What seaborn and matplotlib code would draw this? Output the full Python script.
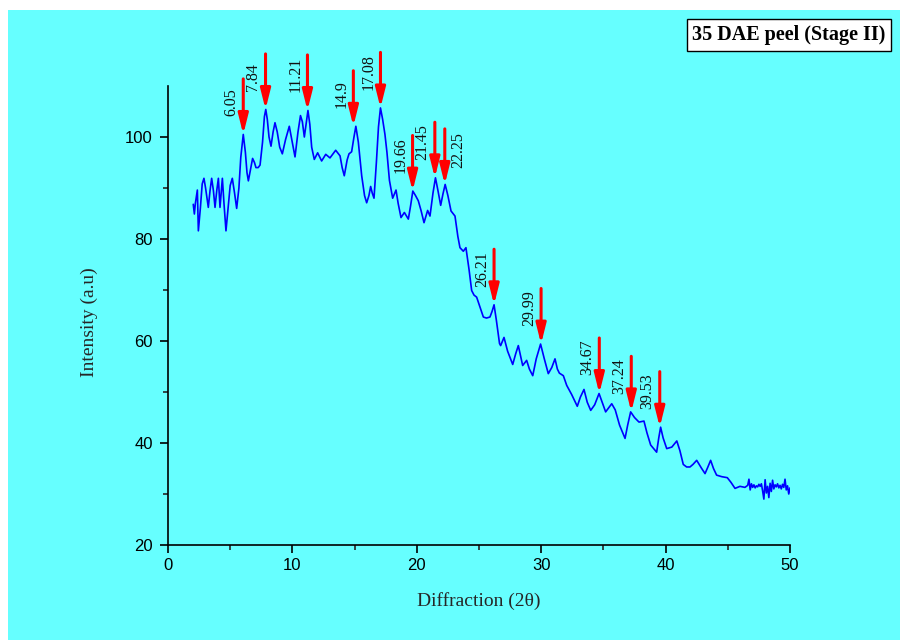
import matplotlib
matplotlib.use("Agg")
import matplotlib.pyplot as plt
from matplotlib.patches import Rectangle
import seaborn as sns
import pandas as pd

# XRD pattern: diffraction angle (2θ) and intensity (a.u)
two_theta = [
    2.03, 2.12, 2.20, 2.36, 2.44, 2.60, 2.75, 2.89, 3.02, 3.24, 3.38, 3.51, 3.65, 3.78, 3.92,
    4.05, 4.18, 4.37, 4.50, 4.66, 4.85, 5.00, 5.17, 5.35, 5.52, 5.70, 5.85, 6.05, 6.22, 6.35,
    6.46, 6.62, 6.80, 6.95, 7.07, 7.25, 7.40, 7.60, 7.75, 7.86, 7.98, 8.12, 8.28, 8.45, 8.60,
    8.78, 8.98, 9.19, 9.45, 9.75, 9.95, 10.21, 10.45, 10.65, 10.80, 10.96, 11.10, 11.25, 11.40,
    11.55, 11.76, 12.03, 12.35, 12.68, 13.02, 13.48, 13.83, 14.00, 14.17, 14.40, 14.55, 14.76,
    14.95, 15.10, 15.30, 15.57, 15.80, 15.97, 16.15, 16.29, 16.42, 16.56, 16.75, 16.92, 17.08,
    17.25, 17.44, 17.60, 17.80, 18.06, 18.33, 18.50, 18.73, 19.00, 19.32, 19.50, 19.68, 19.90,
    20.12, 20.35, 20.58, 20.87, 21.06, 21.30, 21.50, 21.70, 21.92, 22.10, 22.28, 22.50, 22.75,
    23.07, 23.30, 23.47, 23.74, 23.95, 24.20, 24.41, 24.60, 24.81, 25.10, 25.35, 25.60, 25.88,
    26.05, 26.21, 26.40, 26.65, 26.74, 27.01, 27.30, 27.71, 27.95, 28.16, 28.35, 28.51, 28.83,
    29.05, 29.32, 29.60, 29.95, 30.25, 30.57, 30.85, 31.11, 31.30, 31.46, 31.78, 32.05, 32.45,
    32.90, 33.15, 33.44, 33.70, 33.98, 34.30, 34.65, 34.90, 35.18, 35.45, 35.67, 35.95, 36.30,
    36.74, 36.95, 37.19, 37.50, 37.86, 38.26, 38.50, 38.80, 39.28, 39.45, 39.60, 39.80, 40.09,
    40.50, 40.90, 41.15, 41.42, 41.69, 41.96, 42.20, 42.50, 42.90, 43.17, 43.40, 43.62, 43.85,
    44.10, 44.51, 44.96, 45.25, 45.58, 45.98, 46.38, 46.60,
    46.7, 46.8, 46.9, 47.0, 47.1, 47.2, 47.3, 47.4, 47.5, 47.6, 47.7, 47.8, 47.9, 48.0, 48.1,
    48.2, 48.3, 48.4, 48.5, 48.6, 48.7, 48.8, 48.9, 49.0, 49.1, 49.2, 49.3, 49.4, 49.5, 49.6,
    49.7, 49.8, 49.9, 50.0,
]
intensity = [
    86.8, 84.9, 87.0, 89.6, 81.6, 86.0, 90.8, 91.9, 90.0, 86.2, 89.5, 91.9, 89.5, 86.2, 89.5,
    91.9, 86.2, 91.9, 87.0, 81.6, 86.5, 90.5, 91.9, 89.0, 86.0, 90.0, 96.0, 100.5, 97.0, 93.0,
    91.4, 93.5, 95.8, 95.0, 94.0, 94.0, 94.5, 99.0, 104.0, 105.4, 103.5, 100.0, 98.2, 101.0, 102.8,
    101.0, 98.0, 96.7, 99.5, 102.1, 99.5, 96.1, 101.0, 104.2, 103.0, 100.0, 102.5, 105.2, 102.5,
    98.0, 95.6, 96.9, 95.3, 96.6, 95.9, 97.4, 96.3, 94.0, 92.4, 95.5, 96.7, 97.1,
    100.0, 102.1, 99.0, 92.4, 88.5, 87.1, 88.5, 90.3, 89.0, 88.0, 95.0, 102.0, 105.7,
    103.5, 100.5, 97.0, 91.5, 88.0, 89.6, 87.0, 84.2, 85.2, 83.9, 86.5, 89.4, 88.5,
    87.5, 85.5, 83.2, 85.6, 84.5, 89.0, 92.0, 89.5, 86.6, 88.8, 90.7, 88.5, 85.5,
    84.5, 80.5, 78.3, 77.6, 78.3, 74.0, 69.9, 69.0, 68.6, 66.5, 64.7, 64.5, 64.7,
    65.8, 67.1, 64.0, 59.5, 59.1, 60.7, 58.0, 55.4, 57.5, 59.1, 57.0, 55.2, 56.2,
    54.5, 53.2, 56.5, 59.4, 56.5, 53.6, 54.8, 56.5, 54.5, 53.7, 53.2, 51.3, 49.5,
    47.2, 49.0, 50.5, 48.0, 46.4, 47.5, 49.7, 48.0, 46.1, 47.0, 47.7, 46.5, 43.5,
    40.9, 43.5, 46.1, 45.0, 44.1, 44.3, 42.0, 39.6, 38.2, 41.0, 43.1, 41.0, 38.9,
    39.2, 40.4, 38.5, 35.8, 35.3, 35.3, 35.8, 36.6, 35.0, 34.0, 35.3, 36.6, 35.0,
    33.7, 33.4, 33.2, 32.3, 31.1, 31.5, 31.3, 31.7,
    32.9, 30.8, 32.0, 31.3, 31.8, 31.2, 31.6, 31.4, 31.9, 31.5, 32.0, 30.6, 29.0, 32.8, 30.2,
    31.5, 29.3, 32.1, 30.5, 32.7, 31.0, 31.8, 31.4, 32.0, 31.2, 31.7, 31.0, 31.9, 31.3, 32.9,
    30.8, 31.6, 30.0, 31.2,
]

# Marked reflections
peak_labels = ["6.05", "7.84", "11.21", "14.9", "17.08", "19.66", "21.45",
               "22.25", "26.21", "29.99", "34.67", "37.24", "39.53"]
peak_positions = [6.05, 7.84, 11.21, 14.9, 17.08, 19.66, 21.45,
                  22.25, 26.21, 29.99, 34.67, 37.24, 39.53]
peak_intensity = [100.5, 105.4, 105.2, 102.1, 105.7, 89.4, 92.0,
                  90.7, 67.1, 59.4, 49.7, 46.1, 43.1]
label_on_right = ["22.25"]

x_ticks = [0, 10, 20, 30, 40, 50]
y_ticks = [20, 40, 60, 80, 100]

df = pd.DataFrame({"two_theta": two_theta, "intensity": intensity})

sns.set_style("ticks")
plt.rcParams["font.family"] = ["Liberation Sans", "DejaVu Sans"]

fig = plt.figure(figsize=(9.02, 6.44), dpi=100)
fig.patch.set_facecolor("white")
fig.patches.append(Rectangle((8 / 902, 4 / 644), 892 / 902, 630 / 644,
                             transform=fig.transFigure, facecolor="#66ffff",
                             edgecolor="none", zorder=-10))

ax = fig.add_axes([168 / 902, 99 / 644, 622 / 902, 459 / 644])
ax.set_facecolor("none")
ax.set_zorder(5)

sns.lineplot(data=df, x="two_theta", y="intensity", ax=ax, sort=False,
             estimator=None, color="#0000ff", linewidth=1.2)

ax.set_xlim(0, 50)
ax.set_ylim(20, 110)
ax.set_xticks(x_ticks)
ax.set_yticks(y_ticks)
ax.set_xticks([5, 15, 25, 35, 45], minor=True)
ax.set_yticks([30, 50, 70, 90], minor=True)
ax.tick_params(axis="both", which="major", direction="out", length=6,
               width=1.2, labelsize=12, colors="black")
ax.tick_params(axis="both", which="minor", direction="out", length=3.5, width=1.2)
ax.tick_params(axis="y", pad=5)
ax.tick_params(axis="x", pad=3)
for side in ("top", "right"):
    ax.spines[side].set_visible(False)
for side in ("left", "bottom"):
    ax.spines[side].set_linewidth(1.2)
    ax.spines[side].set_color("black")

ax.set_xlabel("")
ax.set_ylabel("")
fig.text(479 / 902, 1 - 601 / 644, "Diffraction (2θ)", ha="center", va="center",
         fontsize=14, family=["Liberation Serif", "DejaVu Serif"])
fig.text(89 / 902, 1 - 322 / 644, "Intensity (a.u)", ha="center", va="center",
         rotation=90, fontsize=14, family=["Liberation Serif", "DejaVu Serif"])

# Red arrows pointing at each marked reflection, with rotated labels
for lab, px, py in zip(peak_labels, peak_positions, peak_intensity):
    ax.annotate("", xy=(px, py), xytext=(0, 40), textcoords="offset points",
                arrowprops=dict(arrowstyle="-|>,head_length=1.0,head_width=0.25",
                                mutation_scale=12, color="#ff0000", lw=2.2,
                                shrinkA=0, shrinkB=0))
    if lab in label_on_right:
        ax.annotate(lab, xy=(px, py), xytext=(4, 12), textcoords="offset points",
                    rotation=90, ha="left", va="bottom", fontsize=11.5,
                    family=["Liberation Serif", "DejaVu Serif"], color="#111111")
    else:
        ax.annotate(lab, xy=(px, py), xytext=(-3, 13), textcoords="offset points",
                    rotation=90, ha="right", va="bottom", fontsize=11.5,
                    family=["Liberation Serif", "DejaVu Serif"], color="#111111")

fig.text(789 / 902, 1 - 35 / 644, "35 DAE peel (Stage II)", ha="center", va="center",
         fontsize=14.5, fontweight="bold", color="black",
         family=["Liberation Serif", "DejaVu Serif"],
         bbox=dict(boxstyle="square,pad=0.28", facecolor="white", edgecolor="black",
                   linewidth=1.0))

fig.savefig("out.png", dpi=100)
